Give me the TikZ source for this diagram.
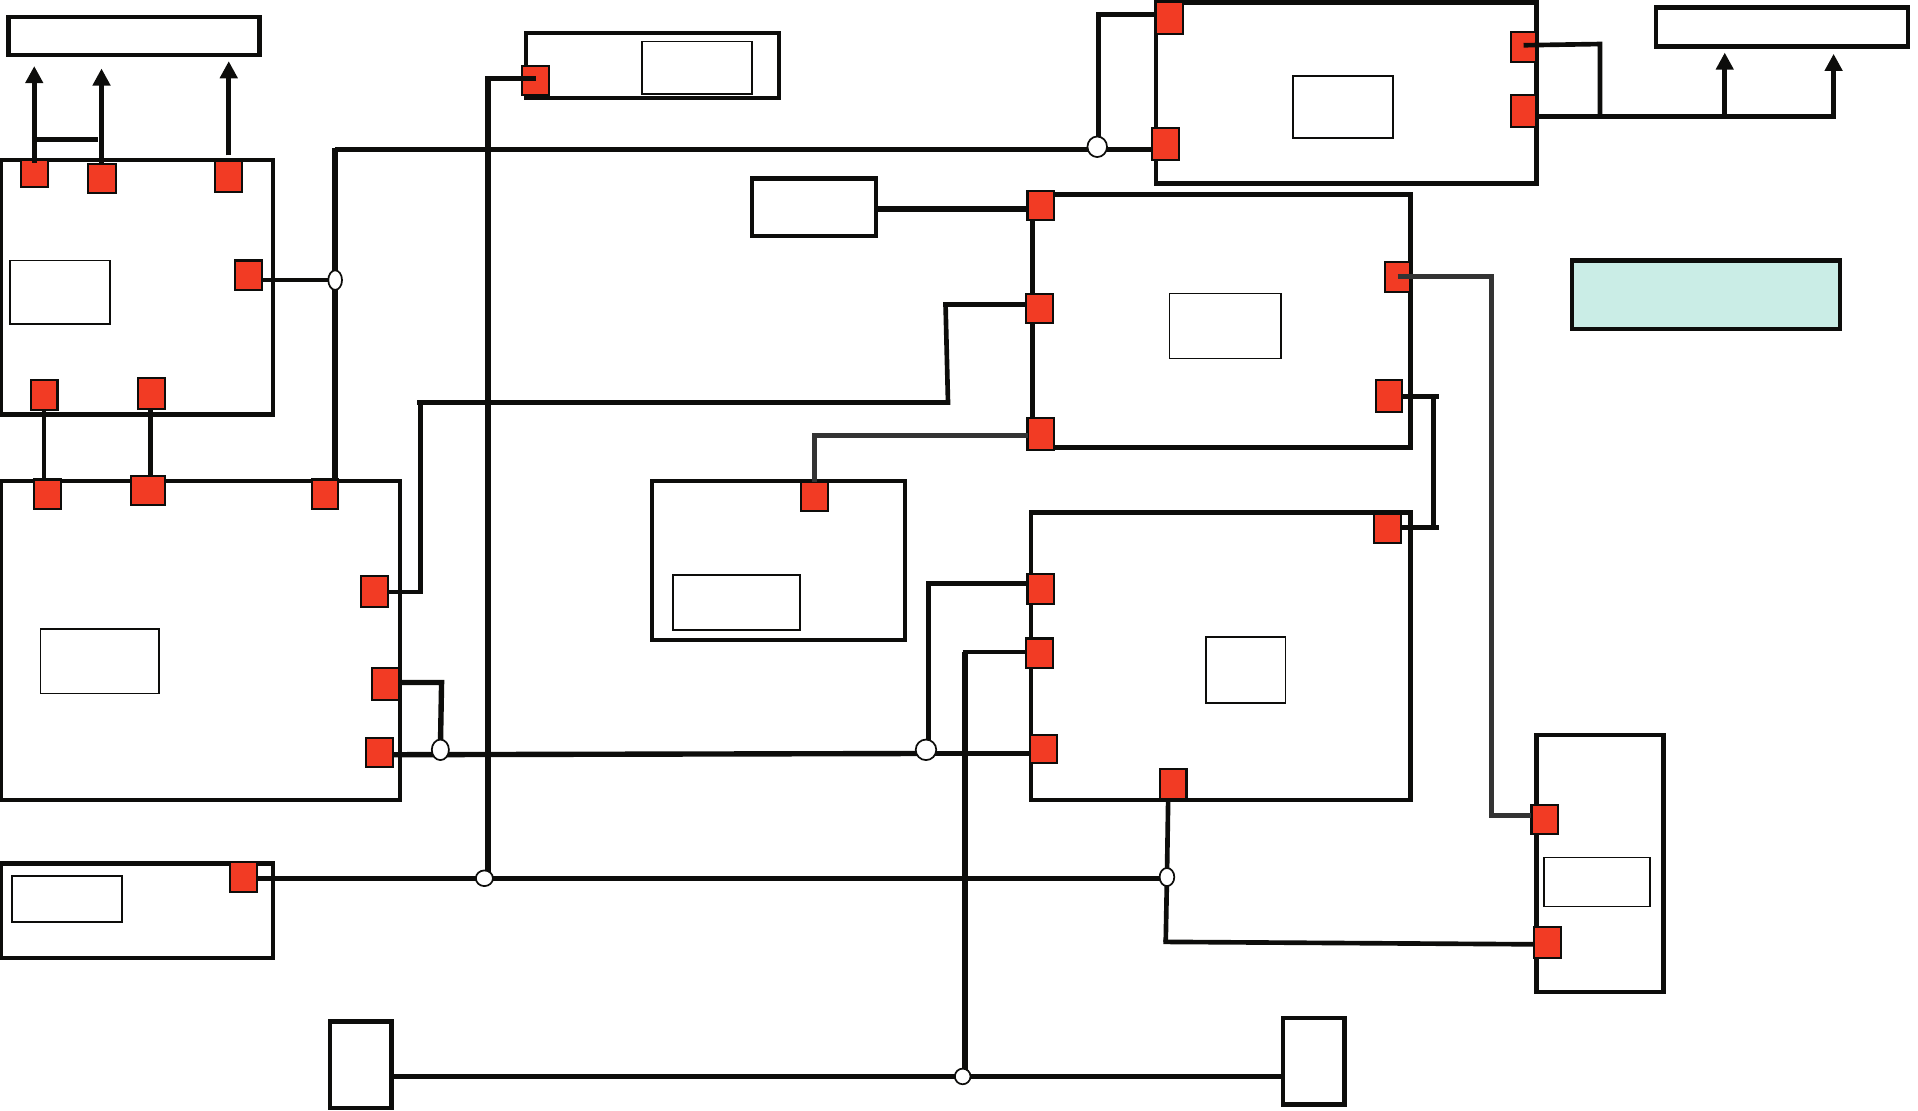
\documentclass[tikz,border=0pt]{standalone}
\usetikzlibrary{arrows.meta,shapes.geometric}
\definecolor{portred}{HTML}{F23B24}
\definecolor{mint}{HTML}{CAEDE6}
\definecolor{inkk}{HTML}{0D0D0B}
\definecolor{grayw}{HTML}{333333}
\tikzset{
  every node/.style={inner sep=0pt,outer sep=0pt},
  module/.style={draw=inkk,fill=white,line width=1.8pt,rectangle},
  inner/.style={draw=inkk,fill=white,line width=0.7pt,rectangle},
  port/.style={draw=inkk,fill=portred,line width=0.85pt,rectangle},
  legend/.style={draw=inkk,fill=mint,line width=1.8pt,rectangle},
  junction/.style={draw=inkk,fill=white,line width=0.7pt,ellipse},
  wire/.style={draw=inkk,line width=1.9pt},
  wirethick/.style={draw=inkk,line width=2.2pt},
  wiregray/.style={draw=grayw,line width=2pt},
  arrowwire/.style={draw=inkk,line width=2pt,-{Triangle[length=7pt,width=7pt]}}
}
\newcommand{\bx}[6]{%
  \pgfmathsetmacro\cxx{(#3+#5)/2}\pgfmathsetmacro\cyy{(#4+#6)/2}%
  \pgfmathsetmacro\wxx{(#5-#3)*0.5}\pgfmathsetmacro\hyy{(#6-#4)*0.5}%
  \node[#1,minimum width=\wxx pt,minimum height=\hyy pt] (#2) at (\cxx,\cyy) {};}
\begin{document}
\begin{tikzpicture}[x=0.5pt,y=-0.5pt]
\useasboundingbox (0,0) rectangle (1568,908);
% boxes
\bx{module}{outA}{7}{14}{212}{45}
\bx{module}{modA}{1}{131}{223}{339}
\bx{inner}{inA}{8}{213}{90}{265}
\bx{module}{modB}{1}{393}{327}{654}
\bx{inner}{inB}{33}{514}{130}{567}
\bx{module}{modC}{1}{706}{223}{783}
\bx{inner}{inC}{10}{716}{100}{754}
\bx{module}{modD}{430}{27}{637}{80}
\bx{inner}{inD}{525}{34}{615}{77}
\bx{module}{modE}{945}{2}{1256}{150}
\bx{inner}{inE}{1057}{62}{1139}{113}
\bx{module}{outB}{1354}{6}{1560}{38}
\bx{module}{boxF}{615}{146}{716}{193}
\bx{module}{modG}{844}{159}{1153}{366}
\bx{inner}{inG}{956}{240}{1047}{293}
\bx{legend}{legendbox}{1285}{213}{1504}{269}
\bx{module}{modH}{533}{393}{740}{523}
\bx{inner}{inH}{550}{470}{654}{515}
\bx{module}{modI}{843}{419}{1153}{654}
\bx{inner}{inI}{986}{521}{1051}{575}
\bx{module}{modJ}{1256}{601}{1360}{811}
\bx{inner}{inJ}{1262}{701}{1349}{741}
\bx{module}{termL}{270}{835}{320}{906}
\bx{module}{termR}{1049}{832}{1099}{903}
% ports
\bx{port}{p1}{17}{131}{39}{153}
\bx{port}{p2}{72}{134}{95}{158}
\bx{port}{p3}{176}{132}{198}{157}
\bx{port}{p4}{192}{213}{214}{237}
\bx{port}{p5}{25}{311}{47}{335}
\bx{port}{p6}{113}{309}{135}{334}
\bx{port}{q1}{28}{392}{50}{416}
\bx{port}{q2}{107}{389}{135}{413}
\bx{port}{q3}{255}{392}{276}{416}
\bx{port}{q4}{295}{471}{317}{496}
\bx{port}{q5}{304}{546}{326}{572}
\bx{port}{q6}{299}{603}{321}{627}
\bx{port}{r1}{188}{705}{210}{729}
\bx{port}{d1}{427}{54}{449}{78}
\bx{port}{e1}{945}{2}{967}{28}
\bx{port}{e2}{942}{105}{964}{131}
\bx{port}{e3}{1235}{26}{1256}{51}
\bx{port}{e4}{1235}{78}{1256}{104}
\bx{port}{g1}{840}{156}{862}{180}
\bx{port}{g2}{839}{240}{861}{264}
\bx{port}{g3}{840}{342}{862}{368}
\bx{port}{g4}{1132}{214}{1153}{239}
\bx{port}{g5}{1125}{311}{1146}{337}
\bx{port}{h1}{655}{394}{677}{418}
\bx{port}{i1}{1123}{420}{1145}{444}
\bx{port}{i2}{840}{469}{862}{494}
\bx{port}{i3}{839}{522}{861}{546}
\bx{port}{i4}{842}{601}{864}{624}
\bx{port}{i5}{948}{629}{970}{653}
\bx{port}{j1}{1252}{658}{1274}{682}
\bx{port}{j2}{1254}{758}{1276}{783}
% free ends and elbows
\coordinate (busTop) at (274,122);
\coordinate (a1) at (28,54);
\coordinate (a2) at (83,56);
\coordinate (a3) at (187,50);
\coordinate (a3s) at (187,127);
\coordinate (h1s) at (26,114);
\coordinate (h1e) at (80,114);
\coordinate (b1) at (1410,43);
\coordinate (b1s) at (1410,93);
\coordinate (b2) at (1499,44);
\coordinate (b2s) at (1499,93);
\coordinate (busRe) at (1501,95);
\coordinate (elbE) at (1308,36);
\coordinate (elbE2) at (1308,95);
\coordinate (elbE3) at (898,10);
\coordinate (elbD) at (399,64);
\coordinate (c1) at (344,484);
\coordinate (c2) at (344,329);
\coordinate (c3) at (775,329);
\coordinate (c4) at (773,249);
\coordinate (c5) at (361,558);
\coordinate (c6) at (759,477);
\coordinate (c7) at (789,533);
\coordinate (c8) at (666,356);
\coordinate (c9) at (1219,226);
\coordinate (c10) at (1219,667);
\coordinate (c11) at (1172,322);
\coordinate (c12) at (1172,431);
\coordinate (c13) at (953,770);
\coordinate (c14) at (1176,324);
\coordinate (c15) at (1176,431);
% junctions (placed first so wires can refer to them)
\coordinate (J1) at (274,229);
\coordinate (J2) at (897,120);
\coordinate (J3) at (396,718);
\coordinate (J4) at (360,613);
\coordinate (J5) at (757,613);
\coordinate (J6) at (787,880);
\coordinate (J7) at (954,717);
% connectors
\draw[wire] (p4.east |- J1) -- (J1);
\draw[wirethick] (busTop |- 0,121) -- (busTop |- q3.north);
\draw[wirethick] (busTop) -- (e2.west |- busTop);
\draw[wire] (elbE3 |- J2) -- (elbE3);
\draw[wirethick] (elbE3 |- 0,12) -- (e1.west |- 0,12);
\draw[wire] (p5.south -| 36,0) -- (q1.north -| 36,0);
\draw[wire] (p6.south -| 123,0) -- (q2.north -| 123,0);
\draw[arrowwire] (p1.north -| a1) ++(0,2) -- (a1);
\draw[arrowwire] (p2.north -| a2) -- (a2);
\draw[arrowwire] (a3s) -- (a3);
\draw[wirethick] (h1s) -- (h1e);
\draw[wirethick] (d1.center |- elbD) -- (elbD) -- (elbD |- J3);
\draw[wire] (e3.center |- 0,37) -- (elbE) -- (elbE2);
\draw[wirethick] (e4.east |- busRe) -- (busRe);
\draw[arrowwire] (b1s) -- (b1);
\draw[arrowwire] (b2s) -- (b2);
\draw[wirethick] (boxF.east |- 0,171) -- (g1.west |- 0,171);
\draw[wire] (q4.east |- c1) -- (c1) -- (c2);
\draw[wire] (341,329) -- (c3) -- (c4);
\draw[wire] (771,249) -- (g2.west |- c4);
\draw[wirethick] (q5.east |- c5) -- (c5) -- (J4);
\draw[wirethick] (q6.east |- 0,617) -- (J5 |- 0,616);
\draw[wire] (J5 |- 0,616) -- (i4.west |- 0,616);
\draw[wire] (J5 -| c6) -- (c6) -- (i2.west |- c6);
\draw[wire] (787,533) -- (i3.west |- c7);
\draw[wirethick] (c7) -- (c7 |- J6);
\draw[wire] (termL.east |- 0,880) -- (termR.west |- 0,880);
\draw[wirethick] (r1.east |- J3) -- (J7 |- J3);
\draw[wire] (i5.south -| 955,0) -- (J7);
\draw[wire] (J7) -- (c13);
\draw[wire] (951,770) -- (j2.west |- 0,772);
\draw[wiregray] (h1.north -| c8) -- (c8) -- (g3.west |- c8);
\draw[wiregray] (g4.center |- c9) -- (c9) -- (c10) -- (j1.west |- c10);
\draw[wire] (g5.east |- c14) -- (c14);
\draw[wire] (c11) -- (c12);
\draw[wire] (i1.east |- c15) -- (c15);
% junction bubbles on top of the wires
\node[junction,minimum width=5.6pt,minimum height=8pt] (jA) at (J1) {};
\node[junction,minimum width=8pt,minimum height=8.4pt] (jB) at (J2) {};
\node[junction,minimum width=7pt,minimum height=6.4pt] (jC) at (J3) {};
\node[junction,minimum width=7pt,minimum height=8.4pt] (jD) at (J4) {};
\node[junction,minimum width=8.4pt,minimum height=8.4pt] (jE) at (J5) {};
\node[junction,minimum width=6.4pt,minimum height=6.4pt] (jF) at (J6) {};
\node[junction,minimum width=6pt,minimum height=7.4pt] (jG) at (J7) {};
\end{tikzpicture}
\end{document}
